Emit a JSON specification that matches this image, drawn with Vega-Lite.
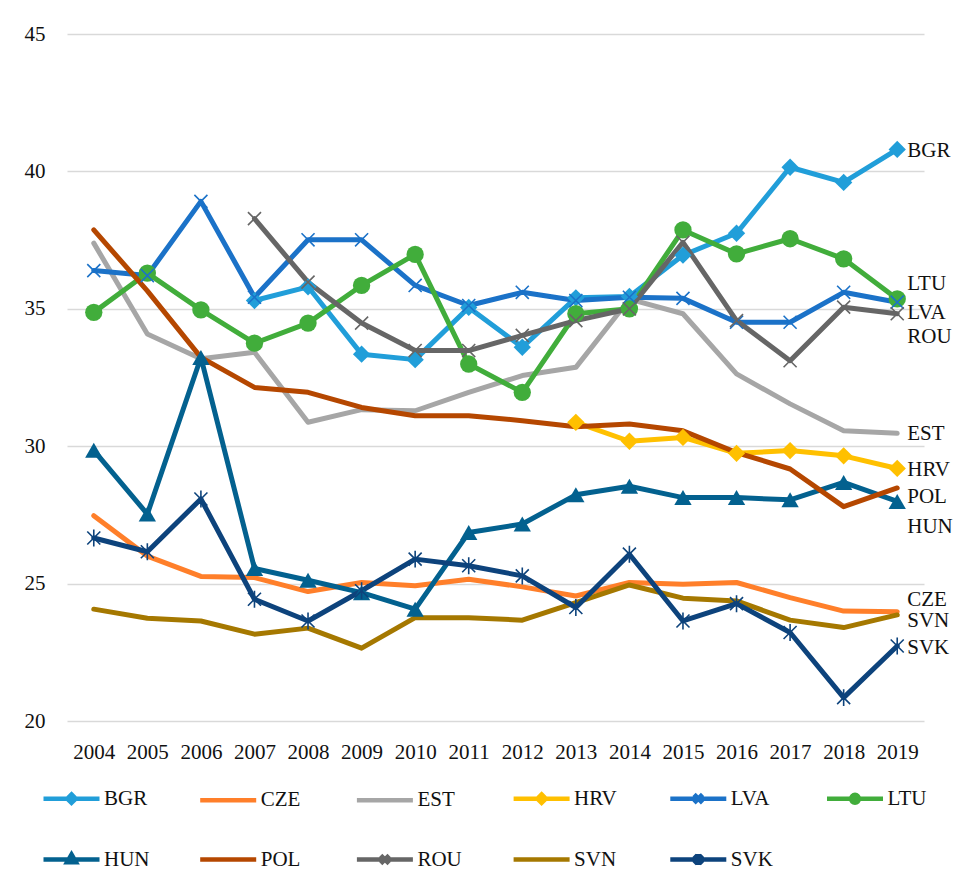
{
  "$schema": "https://vega.github.io/schema/vega-lite/v6.json",
  "width": 857,
  "height": 687,
  "autosize": {"type": "none"},
  "padding": {"left": 67, "top": 34, "right": 34, "bottom": 161},
  "background": "white",
  "config": {
    "view": {"stroke": null},
    "font": "Liberation Serif",
    "axis": {"labelFont": "Liberation Serif", "labelFontSize": 21, "labelColor": "#111111", "ticks": false, "domain": false, "title": null},
    "legend": {"labelFont": "Liberation Serif", "labelFontSize": 21, "labelColor": "#111111"}
  },
  "datasets": {
    "series": [
      {"c":"BGR","year":"2007","v":35.3},{"c":"BGR","year":"2008","v":35.8},{"c":"BGR","year":"2009","v":33.35},{"c":"BGR","year":"2010","v":33.15},{"c":"BGR","year":"2011","v":35.05},{"c":"BGR","year":"2012","v":33.6},{"c":"BGR","year":"2013","v":35.4},{"c":"BGR","year":"2014","v":35.45},{"c":"BGR","year":"2015","v":36.95},{"c":"BGR","year":"2016","v":37.75},{"c":"BGR","year":"2017","v":40.15},{"c":"BGR","year":"2018","v":39.6},{"c":"BGR","year":"2019","v":40.8},
      {"c":"CZE","year":"2004","v":27.47},{"c":"CZE","year":"2005","v":26.0},{"c":"CZE","year":"2006","v":25.26},{"c":"CZE","year":"2007","v":25.22},{"c":"CZE","year":"2008","v":24.71},{"c":"CZE","year":"2009","v":25.04},{"c":"CZE","year":"2010","v":24.92},{"c":"CZE","year":"2011","v":25.16},{"c":"CZE","year":"2012","v":24.88},{"c":"CZE","year":"2013","v":24.55},{"c":"CZE","year":"2014","v":25.04},{"c":"CZE","year":"2015","v":24.98},{"c":"CZE","year":"2016","v":25.04},{"c":"CZE","year":"2017","v":24.49},{"c":"CZE","year":"2018","v":24.0},{"c":"CZE","year":"2019","v":23.98},
      {"c":"EST","year":"2004","v":37.39},{"c":"EST","year":"2005","v":34.08},{"c":"EST","year":"2006","v":33.18},{"c":"EST","year":"2007","v":33.42},{"c":"EST","year":"2008","v":30.87},{"c":"EST","year":"2009","v":31.33},{"c":"EST","year":"2010","v":31.29},{"c":"EST","year":"2011","v":31.96},{"c":"EST","year":"2012","v":32.57},{"c":"EST","year":"2013","v":32.87},{"c":"EST","year":"2014","v":35.35},{"c":"EST","year":"2015","v":34.82},{"c":"EST","year":"2016","v":32.63},{"c":"EST","year":"2017","v":31.54},{"c":"EST","year":"2018","v":30.56},{"c":"EST","year":"2019","v":30.47},
      {"c":"HRV","year":"2013","v":30.87},{"c":"HRV","year":"2014","v":30.18},{"c":"HRV","year":"2015","v":30.32},{"c":"HRV","year":"2016","v":29.74},{"c":"HRV","year":"2017","v":29.84},{"c":"HRV","year":"2018","v":29.65},{"c":"HRV","year":"2019","v":29.19},
      {"c":"LVA","year":"2004","v":36.39},{"c":"LVA","year":"2005","v":36.21},{"c":"LVA","year":"2006","v":38.91},{"c":"LVA","year":"2007","v":35.42},{"c":"LVA","year":"2008","v":37.51},{"c":"LVA","year":"2009","v":37.51},{"c":"LVA","year":"2010","v":35.85},{"c":"LVA","year":"2011","v":35.12},{"c":"LVA","year":"2012","v":35.6},{"c":"LVA","year":"2013","v":35.3},{"c":"LVA","year":"2014","v":35.42},{"c":"LVA","year":"2015","v":35.38},{"c":"LVA","year":"2016","v":34.51},{"c":"LVA","year":"2017","v":34.51},{"c":"LVA","year":"2018","v":35.6},{"c":"LVA","year":"2019","v":35.24},
      {"c":"LTU","year":"2004","v":34.87},{"c":"LTU","year":"2005","v":36.3},{"c":"LTU","year":"2006","v":34.96},{"c":"LTU","year":"2007","v":33.75},{"c":"LTU","year":"2008","v":34.48},{"c":"LTU","year":"2009","v":35.85},{"c":"LTU","year":"2010","v":36.98},{"c":"LTU","year":"2011","v":32.99},{"c":"LTU","year":"2012","v":31.96},{"c":"LTU","year":"2013","v":34.82},{"c":"LTU","year":"2014","v":35.0},{"c":"LTU","year":"2015","v":37.87},{"c":"LTU","year":"2016","v":37.0},{"c":"LTU","year":"2017","v":37.55},{"c":"LTU","year":"2018","v":36.82},{"c":"LTU","year":"2019","v":35.36},
      {"c":"HUN","year":"2004","v":29.85},{"c":"HUN","year":"2005","v":27.53},{"c":"HUN","year":"2006","v":33.23},{"c":"HUN","year":"2007","v":25.55},{"c":"HUN","year":"2008","v":25.12},{"c":"HUN","year":"2009","v":24.67},{"c":"HUN","year":"2010","v":24.07},{"c":"HUN","year":"2011","v":26.86},{"c":"HUN","year":"2012","v":27.17},{"c":"HUN","year":"2013","v":28.23},{"c":"HUN","year":"2014","v":28.54},{"c":"HUN","year":"2015","v":28.13},{"c":"HUN","year":"2016","v":28.13},{"c":"HUN","year":"2017","v":28.05},{"c":"HUN","year":"2018","v":28.68},{"c":"HUN","year":"2019","v":27.99},
      {"c":"POL","year":"2004","v":37.87},{"c":"POL","year":"2005","v":35.65},{"c":"POL","year":"2006","v":33.23},{"c":"POL","year":"2007","v":32.14},{"c":"POL","year":"2008","v":31.96},{"c":"POL","year":"2009","v":31.41},{"c":"POL","year":"2010","v":31.11},{"c":"POL","year":"2011","v":31.11},{"c":"POL","year":"2012","v":30.93},{"c":"POL","year":"2013","v":30.71},{"c":"POL","year":"2014","v":30.81},{"c":"POL","year":"2015","v":30.56},{"c":"POL","year":"2016","v":29.77},{"c":"POL","year":"2017","v":29.17},{"c":"POL","year":"2018","v":27.8},{"c":"POL","year":"2019","v":28.48},
      {"c":"ROU","year":"2007","v":38.28},{"c":"ROU","year":"2008","v":35.97},{"c":"ROU","year":"2009","v":34.48},{"c":"ROU","year":"2010","v":33.48},{"c":"ROU","year":"2011","v":33.48},{"c":"ROU","year":"2012","v":34.03},{"c":"ROU","year":"2013","v":34.57},{"c":"ROU","year":"2014","v":35.0},{"c":"ROU","year":"2015","v":37.42},{"c":"ROU","year":"2016","v":34.57},{"c":"ROU","year":"2017","v":33.11},{"c":"ROU","year":"2018","v":35.06},{"c":"ROU","year":"2019","v":34.82},
      {"c":"SVN","year":"2004","v":24.07},{"c":"SVN","year":"2005","v":23.74},{"c":"SVN","year":"2006","v":23.64},{"c":"SVN","year":"2007","v":23.16},{"c":"SVN","year":"2008","v":23.38},{"c":"SVN","year":"2009","v":22.65},{"c":"SVN","year":"2010","v":23.76},{"c":"SVN","year":"2011","v":23.76},{"c":"SVN","year":"2012","v":23.67},{"c":"SVN","year":"2013","v":24.31},{"c":"SVN","year":"2014","v":24.95},{"c":"SVN","year":"2015","v":24.47},{"c":"SVN","year":"2016","v":24.37},{"c":"SVN","year":"2017","v":23.67},{"c":"SVN","year":"2018","v":23.4},{"c":"SVN","year":"2019","v":23.86},
      {"c":"SVK","year":"2004","v":26.66},{"c":"SVK","year":"2005","v":26.16},{"c":"SVK","year":"2006","v":28.08},{"c":"SVK","year":"2007","v":24.43},{"c":"SVK","year":"2008","v":23.64},{"c":"SVK","year":"2009","v":24.74},{"c":"SVK","year":"2010","v":25.89},{"c":"SVK","year":"2011","v":25.65},{"c":"SVK","year":"2012","v":25.28},{"c":"SVK","year":"2013","v":24.13},{"c":"SVK","year":"2014","v":26.07},{"c":"SVK","year":"2015","v":23.64},{"c":"SVK","year":"2016","v":24.27},{"c":"SVK","year":"2017","v":23.22},{"c":"SVK","year":"2018","v":20.85},{"c":"SVK","year":"2019","v":22.73}
    ],
    "labels": [
      {"c":"BGR","year":"2019","lv":40.76},{"c":"LTU","year":"2019","lv":35.89},{"c":"LVA","year":"2019","lv":34.83},{"c":"ROU","year":"2019","lv":33.97},{"c":"EST","year":"2019","lv":30.43},{"c":"HRV","year":"2019","lv":29.12},{"c":"POL","year":"2019","lv":28.15},{"c":"HUN","year":"2019","lv":27.06},{"c":"CZE","year":"2019","lv":24.42},{"c":"SVN","year":"2019","lv":23.65},{"c":"SVK","year":"2019","lv":22.67}
    ]
  },
  "encoding": {
    "x": {"field": "year", "type": "ordinal", "scale": {"type": "point", "padding": 0.5}, "axis": {"labelAngle": 0, "labelPadding": 20, "grid": false}},
    "y": {"field": "v", "type": "quantitative", "scale": {"domain": [20, 45], "nice": false, "zero": false}, "axis": {"values": [20, 25, 30, 35, 40, 45], "labelPadding": 22, "grid": true, "gridColor": "#d9d9d9", "gridWidth": 1.6}}
  },
  "layer": [
    {
      "data": {"name": "series"},
      "mark": {"type": "line", "strokeWidth": 5, "strokeCap": "round", "strokeJoin": "round"},
      "encoding": {
        "color": {
          "field": "c", "type": "nominal",
          "scale": {
            "domain": ["BGR","CZE","EST","HRV","LVA","LTU","HUN","POL","ROU","SVN","SVK"],
            "range": ["#219ED9","#FF7F2A","#A6A6A6","#FFC000","#1B72C8","#41AD3B","#03618F","#B54700","#666666","#A57800","#0D437C"]
          },
          "legend": {
            "title": null,
            "orient": "none",
            "legendX": -26,
            "legendY": 733,
            "direction": "horizontal",
            "columns": 6,
            "gridAlign": "all",
            "columnPadding": 40.7,
            "rowPadding": 16,
            "symbolSize": 3136,
            "symbolStrokeWidth": 4.5,
            "labelOffset": 2,
            "encode": {
              "symbols": {
                "update": {
                  "shape": {"signal": "(datum.value === 'BGR' || datum.value === 'HRV') ? 'M-1,0H1M0,-0.15L0.15,0L0,0.15L-0.15,0Z' : datum.value === 'LTU' ? 'M-1,0H1M-0.14,0A0.14,0.14 0 1,0 0.14,0A0.14,0.14 0 1,0 -0.14,0Z' : datum.value === 'HUN' ? 'M-1,0H1M0,-0.18L0.16,0.1L-0.16,0.1Z' : (datum.value === 'LVA' || datum.value === 'ROU') ? 'M-1,0H1M-0.15,-0.15L0.15,0.15M-0.15,0.15L0.15,-0.15' : datum.value === 'SVK' ? 'M-1,0H1M-0.15,-0.15L0.15,0.15M-0.15,0.15L0.15,-0.15M0,-0.2V0.2' : 'M-1,0H1'"},
                  "fill": {"signal": "scale('color', datum.value)"}
                }
              }
            }
          }
        },
        "detail": {"field": "c"}
      }
    },
    {
      "data": {"name": "series"},
      "transform": [{"filter": {"field": "c", "oneOf": ["BGR","HRV","LTU","HUN"]}}],
      "mark": {"type": "point", "filled": true, "opacity": 1, "size": 300},
      "encoding": {
        "color": {"field": "c", "type": "nominal", "legend": null},
        "shape": {
          "field": "c", "type": "nominal", "legend": null,
          "scale": {
            "domain": ["BGR","HRV","LTU","HUN","LVA","ROU","SVK"],
            "range": ["diamond","diamond","circle","triangle-up","M-1,-1L1,1M-1,1L1,-1","M-1,-1L1,1M-1,1L1,-1","M-1,-1L1,1M-1,1L1,-1M0,-1.3V1.3"]
          }
        }
      }
    },
    {
      "data": {"name": "series"},
      "transform": [{"filter": {"field": "c", "oneOf": ["LVA","ROU","SVK"]}}],
      "mark": {"type": "point", "filled": false, "opacity": 1, "size": 170, "strokeWidth": 1.6},
      "encoding": {
        "color": {"field": "c", "type": "nominal", "legend": null},
        "shape": {"field": "c", "type": "nominal", "legend": null}
      }
    },
    {
      "data": {"name": "labels"},
      "mark": {"type": "text", "align": "left", "baseline": "middle", "dx": 10, "font": "Liberation Serif", "fontSize": 21, "color": "#111111"},
      "encoding": {
        "y": {"field": "lv", "type": "quantitative"},
        "text": {"field": "c"}
      }
    }
  ]
}
